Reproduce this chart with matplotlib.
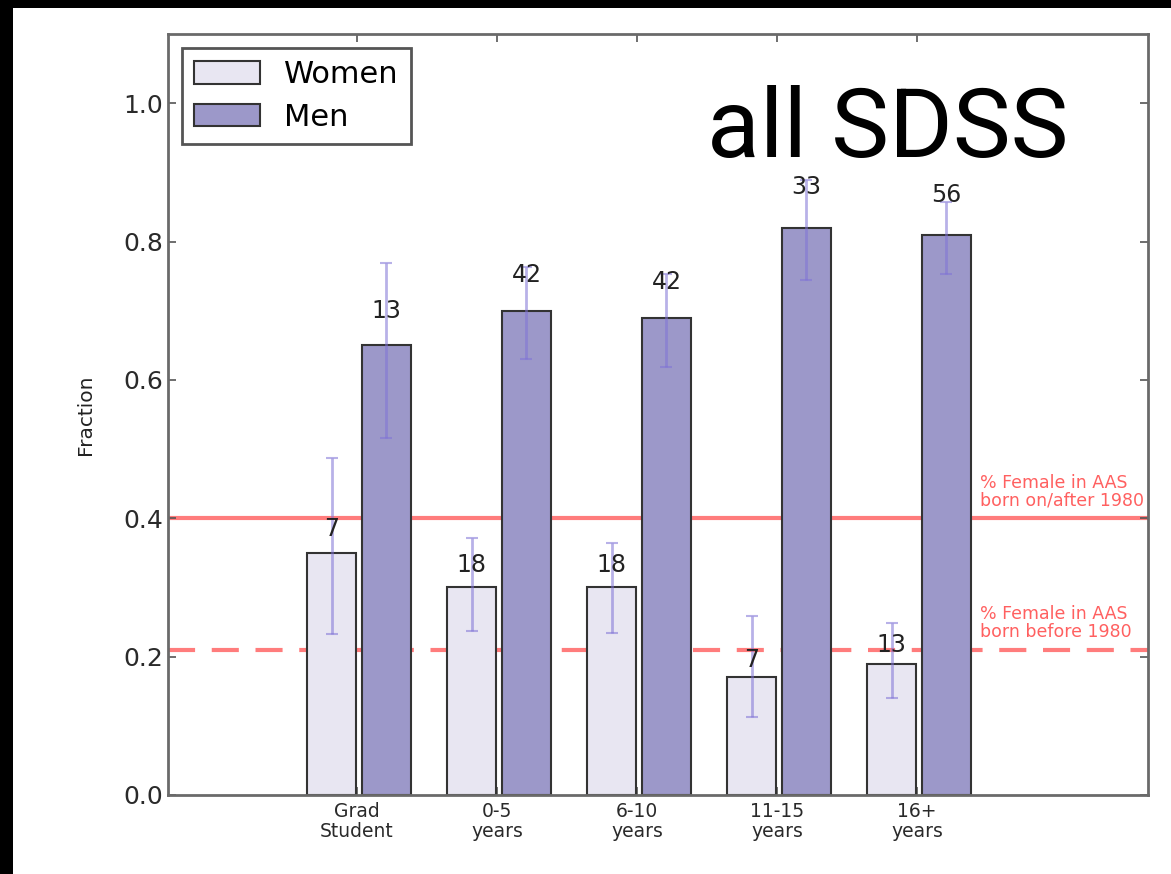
import numpy as np
import matplotlib
matplotlib.use("Agg")
import matplotlib.pyplot as plt
from matplotlib.patches import Rectangle

# career stage groups
groups = ['Grad\nStudent', '0-5\nyears', '6-10\nyears', '11-15\nyears', '16+\nyears']

# fractions and error bar ends
women = [0.35, 0.30, 0.30, 0.17, 0.19]
women_hi = [0.487, 0.371, 0.364, 0.259, 0.249]
women_lo = [0.233, 0.237, 0.234, 0.113, 0.140]
women_n = [7, 18, 18, 7, 13]

men = [0.65, 0.70, 0.69, 0.82, 0.81]
men_hi = [0.769, 0.763, 0.753, 0.889, 0.857]
men_lo = [0.516, 0.630, 0.618, 0.744, 0.753]
men_n = [13, 42, 42, 33, 56]

aas_after_1980 = 0.40
aas_before_1980 = 0.21

women_color = '#e8e6f2'
men_color = '#9c98c9'
err_color = '#7f72d6'
red = '#ff4444'

fig = plt.figure(figsize=(11.71, 8.74), dpi=100)
fig.patch.set_facecolor('white')
# black strips along the left and top edges of the screenshot
fig.patches.append(Rectangle((0, 0), 13 / 1171, 1, transform=fig.transFigure,
                             facecolor='black', edgecolor='none'))
fig.patches.append(Rectangle((0, 1 - 8 / 874), 1, 8 / 874, transform=fig.transFigure,
                             facecolor='black', edgecolor='none'))

ax = fig.add_axes([168 / 1171, (874 - 795) / 874, (1148 - 168) / 1171, (795 - 34) / 874])

ind = np.arange(len(groups))
width = 0.35
xw = ind - 0.005 - width / 2
xm = ind + 0.035 + width / 2

w_err = [np.array(women) - np.array(women_lo), np.array(women_hi) - np.array(women)]
m_err = [np.array(men) - np.array(men_lo), np.array(men_hi) - np.array(men)]

bw = ax.bar(xw, women, width, color=women_color, edgecolor='#333333', linewidth=1.5, label='Women', zorder=2)
bm = ax.bar(xm, men, width, color=men_color, edgecolor='#333333', linewidth=1.5, label='Men', zorder=2)
ax.errorbar(xw, women, yerr=w_err, fmt='none', ecolor=err_color, elinewidth=2, capsize=4.5,
            capthick=1.5, alpha=0.55, zorder=3)
ax.errorbar(xm, men, yerr=m_err, fmt='none', ecolor=err_color, elinewidth=2, capsize=4.5,
            capthick=1.5, alpha=0.55, zorder=3)

for rects, counts in [(bw, women_n), (bm, men_n)]:
    for rect, n in zip(rects, counts):
        h = rect.get_height()
        ax.text(rect.get_x() + rect.get_width() / 2, 1.05 * h, '%d' % n,
                ha='center', va='bottom', fontsize=17, color='#222222', zorder=4)

ax.axhline(aas_after_1980, color=red, linewidth=3, alpha=0.7, zorder=1)
ax.axhline(aas_before_1980, color=red, linewidth=3, alpha=0.7, linestyle=(0, (6.5, 4)), zorder=1)
ax.text(4.45, aas_after_1980 + 0.012, '% Female in AAS\nborn on/after 1980', color=red,
        fontsize=12.5, alpha=0.85, ha='left', va='bottom', linespacing=1.0)
ax.text(4.45, aas_before_1980 + 0.012, '% Female in AAS\nborn before 1980', color=red,
        fontsize=12.5, alpha=0.85, ha='left', va='bottom', linespacing=1.0)

ax.set_xlim(-1.35, 5.65)
ax.set_ylim(0, 1.1)
ax.set_yticks([0.0, 0.2, 0.4, 0.6, 0.8, 1.0])
ax.set_yticklabels(['0.0', '0.2', '0.4', '0.6', '0.8', '1.0'], fontsize=18, color='#2a2a2a')
ax.set_xticks(ind)
ax.set_xticklabels(groups, fontsize=13.5, color='#2a2a2a', linespacing=1.05)
ax.tick_params(direction='in', top=True, right=True, length=6, width=1.2, color='#555555')
ax.tick_params(axis='x', pad=5)
ax.set_ylabel('Fraction', fontsize=14.5, color='#222222', labelpad=20)
for sp in ax.spines.values():
    sp.set_color('#6a6a6a')
    sp.set_linewidth(2)

leg = ax.legend(loc='upper left', fontsize=22, handlelength=2.15, handleheight=0.75,
                fancybox=False, framealpha=1, borderaxespad=0.45, labelspacing=0.45,
                handletextpad=0.8, borderpad=0.4)
leg.get_frame().set_edgecolor('#555555')
leg.get_frame().set_linewidth(2)

fig.text(707 / 1171, 1 - 157 / 874, 'all SDSS', fontsize=70, family='Roboto', fontweight='normal',
         color='black', ha='left', va='baseline')

fig.savefig('out.png', dpi=100)
